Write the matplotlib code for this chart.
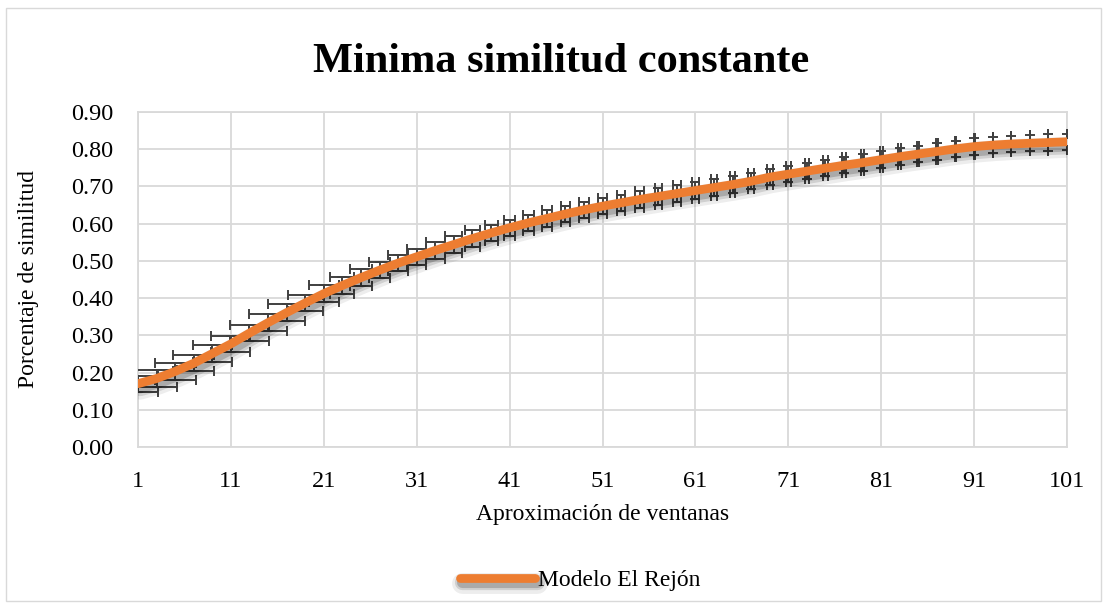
import numpy as np
import matplotlib
matplotlib.use("Agg")
import matplotlib.pyplot as plt
import matplotlib.patheffects as pe
from matplotlib.patches import Rectangle

# data (one point every 2 windows)
ventanas = list(range(1, 102, 2))
similitud = [0.170, 0.184, 0.203, 0.225, 0.251, 0.277, 0.306, 0.334, 0.361, 0.387,
             0.412, 0.434, 0.455, 0.475, 0.494, 0.511, 0.528, 0.544, 0.560, 0.575,
             0.589, 0.602, 0.614, 0.626, 0.637, 0.647, 0.656, 0.665, 0.673, 0.681,
             0.689, 0.697, 0.705, 0.714, 0.725, 0.733, 0.741, 0.749, 0.757, 0.764,
             0.772, 0.780, 0.787, 0.794, 0.801, 0.807, 0.811, 0.814, 0.816, 0.818,
             0.820]
err_y = [0.022] * 51
err_x = [2.2, 2.2, 2.2, 2.2, 2.1, 2.1, 2.1, 2.0, 2.0, 1.9,
         1.6, 1.3, 1.2, 1.1, 1.1, 1.0, 1.0, 0.9, 0.8, 0.7,
         0.6, 0.6, 0.55, 0.5, 0.5, 0.5, 0.45, 0.45, 0.4, 0.4,
         0.35, 0.35, 0.3, 0.3, 0.3, 0.3, 0.25, 0.25, 0.2, 0.2,
         0.15, 0.15, 0.1, 0.1, 0.1, 0.05, 0.0, 0.0, 0.0, 0.0,
         0.0]
x_ticks = list(range(1, 102, 10))
y_ticks = [i / 10 for i in range(10)]

serif = ["Liberation Serif", "DejaVu Serif"]
plt.rcParams["font.family"] = serif

fig = plt.figure(figsize=(11.07, 6.08), dpi=100)
fig.patches.append(Rectangle((6 / 1107, 7 / 608), 1095 / 1107, 593 / 608,
                             transform=fig.transFigure, fill=False,
                             edgecolor="#D9D9D9", linewidth=1.0))
ax = fig.add_axes([138 / 1107, 1 - 447 / 608, 929 / 1107, 335 / 608])

x = np.array(ventanas)
y = np.array(similitud)
ey = np.array(err_y)
ex = np.array(err_x)

ebkw = dict(fmt="none", ecolor="#404040", elinewidth=1.4, capsize=3.4, capthick=1.4, zorder=3)
ax.errorbar(x, y, yerr=ey, **ebkw)
ax.errorbar(x, y + ey, xerr=ex, **ebkw)
ax.errorbar(x, y - ey, xerr=ex, **ebkw)

shadow = [pe.SimpleLineShadow(offset=(1.5, -4), shadow_color="#000000", alpha=0.07, linewidth=15),
          pe.SimpleLineShadow(offset=(1.5, -3.5), shadow_color="#000000", alpha=0.12, linewidth=11),
          pe.SimpleLineShadow(offset=(1.5, -3), shadow_color="#000000", alpha=0.18, linewidth=8),
          pe.Normal()]
ax.plot(x, y, color="#ED7D31", linewidth=6.3, solid_capstyle="round",
        label="Modelo El Rejón", zorder=4, path_effects=shadow)

ax.set_xlim(1, 101)
ax.set_ylim(0, 0.9)
ax.set_xticks(x_ticks)
ax.set_yticks(y_ticks)
ax.set_yticklabels([f"{v:.2f}" for v in y_ticks])
ax.tick_params(length=0, labelsize=17.5, colors="black")
ax.tick_params(axis="x", pad=17)
ax.tick_params(axis="y", pad=18)
ax.grid(True, color="#D9D9D9", linewidth=1.3)
ax.set_axisbelow(True)
for s in ax.spines.values():
    s.set_color("#D9D9D9")
    s.set_linewidth(1.3)

ax.set_xlabel("Aproximación de ventanas", fontsize=17, labelpad=9)
ax.set_ylabel("Porcentaje de similitud", fontsize=17)
ax.yaxis.set_label_coords((39 - 138) / 929, 0.5)
fig.text(561 / 1107, 1 - 62 / 608, "Minima similitud constante", fontsize=30.5,
         fontweight="bold", ha="center", va="center")

fig.legend(loc="center", bbox_to_anchor=(580 / 1107, 1 - 580 / 608), frameon=False,
           fontsize=17, handlelength=3.2, handletextpad=0.1)

fig.savefig("out.png", dpi=100, facecolor="white")
